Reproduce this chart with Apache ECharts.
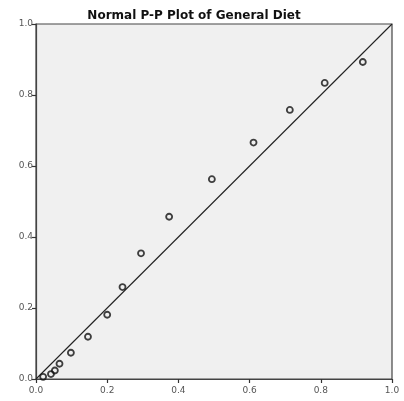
<!DOCTYPE html>
<html>
<head>
<meta charset="utf-8">
<script src="https://cdn.jsdelivr.net/npm/echarts@6/dist/echarts.min.js"></script>
<style>
  html, body { margin: 0; padding: 0; background: #fff; }
  #chart { width: 404px; height: 401px; }
</style>
</head>
<body>
<div id="chart"></div>
<script>
// Observed cumulative probability vs. expected cumulative probability
const observedCumProb = [0.020, 0.042, 0.053, 0.066, 0.098, 0.146, 0.200, 0.243, 0.295, 0.374, 0.494, 0.611, 0.713, 0.811, 0.918];
const expectedCumProb = [0.006, 0.014, 0.024, 0.043, 0.074, 0.119, 0.181, 0.259, 0.354, 0.457, 0.563, 0.666, 0.758, 0.834, 0.893];
// Reference line of a perfect normal fit
const referenceLine = [[0, 0], [1, 1]];
const axisTicks = [0, 0.2, 0.4, 0.6, 0.8, 1.0];

const points = observedCumProb.map((x, i) => [x, expectedCumProb[i]]);

const chart = echarts.init(document.getElementById('chart'), null, { renderer: 'canvas' });

const axisCommon = {
  type: 'value',
  min: axisTicks[0],
  max: axisTicks[axisTicks.length - 1],
  interval: 0.2,
  axisLine: { show: true, lineStyle: { color: '#444', width: 1.2 } },
  axisTick: { show: true, inside: false, length: 4, lineStyle: { color: '#333', width: 1.2 } },
  axisLabel: {
    fontFamily: 'DejaVu Sans',
    fontSize: 9,
    color: '#555',
    formatter: v => v.toFixed(1)
  },
  splitLine: { show: false }
};

chart.setOption({
  backgroundColor: '#fff',
  animation: false,
  title: {
    text: 'Normal P-P Plot of General Diet',
    left: 189,
    top: 5,
    textAlign: 'center',
    textStyle: {
      fontFamily: 'DejaVu Sans',
      fontWeight: 'bold',
      fontSize: 12,
      color: '#111'
    }
  },
  grid: {
    left: 36,
    right: 12,
    top: 24,
    bottom: 22,
    show: true,
    backgroundColor: '#f0f0f0',
    borderColor: '#444',
    borderWidth: 1.2
  },
  xAxis: Object.assign({}, axisCommon, {
    axisLabel: Object.assign({}, axisCommon.axisLabel, { margin: 7 })
  }),
  yAxis: Object.assign({}, axisCommon, {
    axisLabel: Object.assign({}, axisCommon.axisLabel, { margin: 3 })
  }),
  series: [
    {
      type: 'line',
      data: referenceLine,
      symbol: 'none',
      lineStyle: { color: '#222', width: 1.1 },
      silent: true,
      z: 2
    },
    {
      type: 'scatter',
      data: points,
      symbol: 'circle',
      symbolSize: 6,
      itemStyle: { color: 'rgba(0,0,0,0)', borderColor: '#111', borderWidth: 1.8 },
      z: 3
    }
  ]
});
</script>
</body>
</html>
